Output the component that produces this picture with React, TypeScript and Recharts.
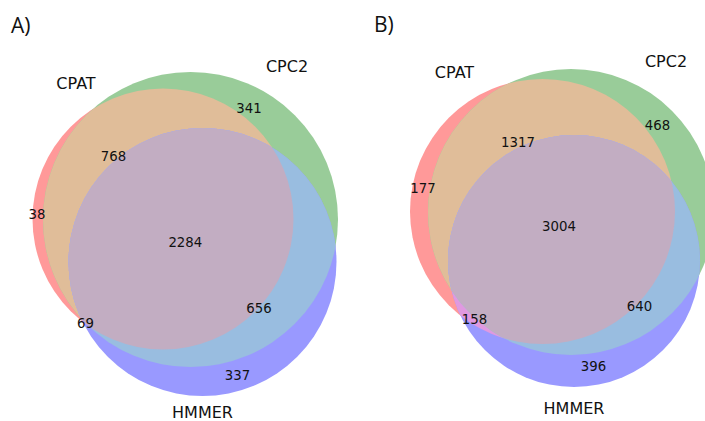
import { ScatterChart, Scatter, XAxis, YAxis, ZAxis } from 'recharts';

const WIDTH = 705;
const HEIGHT = 421;

const setNames = ['CPAT', 'CPC2', 'HMMER'];
const panelTitles = ['A)', 'B)'];

// Region sizes: CPAT only, CPC2 only, CPAT&CPC2, HMMER only, CPAT&HMMER, CPC2&HMMER, all three
const countsA = [38, 341, 768, 337, 69, 656, 2284];
const countsB = [177, 468, 1317, 396, 158, 640, 3004];

// Circle layout [cx, cy, r] for CPAT, CPC2, HMMER (layout units, y downward)
const circlesA = [[163, 219, 130.5], [190.5, 219.5, 147.5], [202.5, 262, 134]];
const circlesB = [[542.5, 211.5, 132.5], [571, 212, 143], [574, 261, 126]];

// Where each region count sits, same order as the counts
const countSpotsA = [[37, 214.5], [249, 108.5], [113.5, 156], [237.5, 375.5], [85.5, 323], [259, 308.5], [185.3, 242]];
const countSpotsB = [[423, 188.5], [657.5, 125], [518, 142], [593.5, 366.5], [474.5, 319], [639.5, 306.5], [559, 226.5]];

// Where the set names sit, same order as setNames
const nameSpotsA = [[76, 83.5], [287, 66.5], [202.5, 412.5]];
const nameSpotsB = [[454.5, 72.5], [666, 61.5], [574, 408.5]];

const titleSpots = [[11, 25], [374, 24.5]];

// matplotlib_venn style colouring: r, g, b mixed per region, drawn at alpha 0.4
const baseColors = [[1, 0, 0], [0, 128 / 255, 0], [0, 0, 1]];
const ALPHA = 0.4;
const regionMasks = [1, 2, 3, 4, 5, 6, 7];

const regionFill = (mask: number) => {
  const members = baseColors.filter((_, i) => mask & (1 << i));
  const k = members.length === 1 ? 1 : members.length === 2 ? 0.7 : 0.4;
  const rgb = [0, 1, 2].map((c) => {
    const v = Math.min(1, k * members.reduce((s, m) => s + m[c], 0));
    return Math.round(255 * (ALPHA * v + 1 - ALPHA));
  });
  return `rgb(${rgb.join(',')})`;
};

const circleData = [circlesA, circlesB].flatMap((circles, panel) =>
  circles.map(([x, y, r], set) => ({ x, y, area: Math.PI * r * r, panel, set }))
);

const countData = [
  ...countSpotsA.map(([x, y], i) => ({ x, y, text: String(countsA[i]), mask: regionMasks[i] })),
  ...countSpotsB.map(([x, y], i) => ({ x, y, text: String(countsB[i]), mask: regionMasks[i] })),
];

const nameData = [
  ...nameSpotsA.map(([x, y], i) => ({ x, y, text: setNames[i] })),
  ...nameSpotsB.map(([x, y], i) => ({ x, y, text: setNames[i] })),
];

const titleData = titleSpots.map(([x, y], i) => ({ x, y, text: panelTitles[i] }));

// Each circle paints itself, then repaints its overlaps with the circles drawn before it
const VennCircle = (props: any) => {
  const { cx, cy, width, payload } = props;
  const r = width / 2;
  const { panel, set } = payload;
  const clipId = (s: number) => `venn-${panel}-${s}`;
  const disc = (fill: string) => <circle cx={cx} cy={cy} r={r} fill={fill} />;
  const own = 1 << set;
  return (
    <g>
      <defs>
        <clipPath id={clipId(set)}>
          <circle cx={cx} cy={cy} r={r} />
        </clipPath>
      </defs>
      {disc(regionFill(own))}
      {Array.from({ length: set }, (_, t) => (
        <g key={t} clipPath={`url(#${clipId(t)})`}>
          {disc(regionFill(own | (1 << t)))}
        </g>
      ))}
      {set === 2 && (
        <g clipPath={`url(#${clipId(0)})`}>
          <g clipPath={`url(#${clipId(1)})`}>{disc(regionFill(7))}</g>
        </g>
      )}
    </g>
  );
};

const makeText = (size: number, family: string, anchor: 'middle' | 'start') => (props: any) => {
  const { cx, cy, payload } = props;
  return (
    <text
      x={cx}
      y={cy + size * 0.36}
      textAnchor={anchor}
      fontSize={size}
      fontFamily={family}
      fill="#111"
    >
      {payload.text}
    </text>
  );
};

const CountText = makeText(13.3, 'DejaVu Sans', 'middle');
const NameText = makeText(16, 'DejaVu Sans', 'middle');
const TitleText = makeText(21, 'Open Sans', 'start');

export default function App() {
  return (
    <div style={{ position: 'absolute', left: 0, top: 0, background: '#fff' }}>
      <ScatterChart width={WIDTH} height={HEIGHT} margin={{ top: 0, right: 0, bottom: 0, left: 0 }}>
        <XAxis type="number" dataKey="x" domain={[0, WIDTH]} hide />
        <YAxis type="number" dataKey="y" domain={[0, HEIGHT]} reversed hide />
        <ZAxis type="number" dataKey="area" domain={[0, 100000]} range={[0, 100000]} />
        <Scatter data={circleData} shape={VennCircle} isAnimationActive={false} />
        <Scatter data={countData} shape={CountText} isAnimationActive={false} />
        <Scatter data={nameData} shape={NameText} isAnimationActive={false} />
        <Scatter data={titleData} shape={TitleText} isAnimationActive={false} />
      </ScatterChart>
    </div>
  );
}
